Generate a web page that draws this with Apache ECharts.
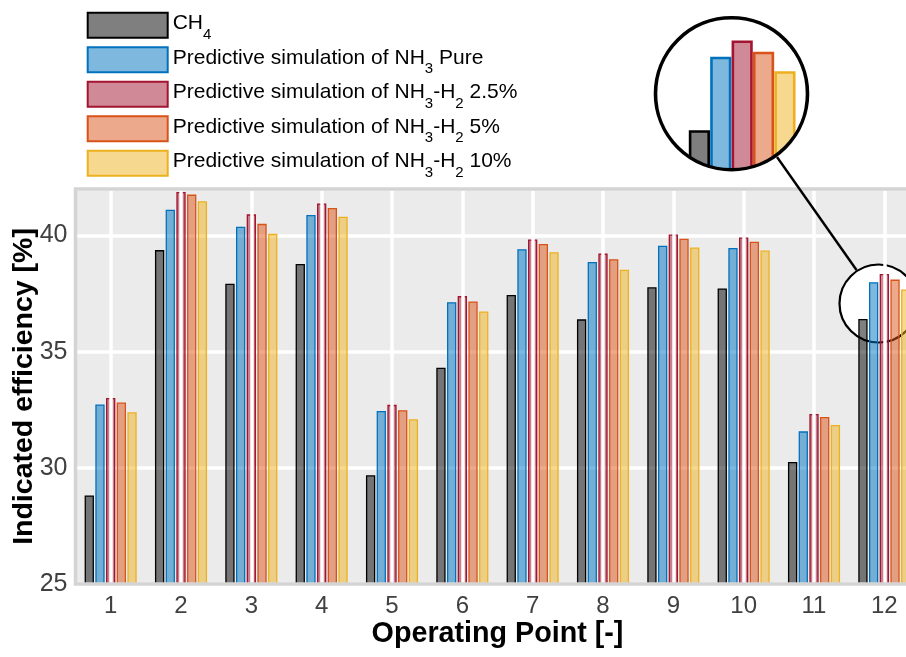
<!DOCTYPE html>
<html><head><meta charset="utf-8">
<script src="https://cdn.jsdelivr.net/npm/echarts@6/dist/echarts.min.js"></script>
<style>html,body{margin:0;padding:0;background:#fff}#c{width:906px;height:657px}</style>
</head><body><div id="c"></div>
<script>
// ---- data ----
const categories = ['1','2','3','4','5','6','7','8','9','10','11','12'];
const seriesNames = [
  'CH4',
  'Predictive simulation of NH3 Pure',
  'Predictive simulation of NH3-H2 2.5%',
  'Predictive simulation of NH3-H2 5%',
  'Predictive simulation of NH3-H2 10%'
];
const ch4      = [28.81, 39.37, 37.92, 38.77, 29.68, 34.31, 37.44, 36.39, 37.77, 37.72, 30.25, 36.41];
const nh3Pure  = [32.73, 41.11, 40.38, 40.88, 32.45, 37.13, 39.41, 38.86, 39.56, 39.46, 31.57, 37.99];
const nh3H2_25 = [33.01, 41.87, 40.91, 41.38, 32.71, 37.39, 39.83, 39.22, 40.04, 39.91, 32.32, 38.34];
const nh3H2_5  = [32.81, 41.76, 40.50, 41.18, 32.48, 37.16, 39.63, 38.98, 39.86, 39.73, 32.19, 38.10];
const nh3H2_10 = [32.39, 41.47, 40.07, 40.81, 32.09, 36.73, 39.28, 38.53, 39.48, 39.35, 31.84, 37.68];
const yTicks = [25, 30, 35, 40];
const zoomIndex = 11; // operating point shown in the magnifier

// ---- styling ----
const FONT = 'Liberation Sans, Arial, Helvetica, sans-serif';
const edges = ['#000000', '#0072bd', '#a2142f', '#d95319', '#edb120'];
const fills = ['rgba(0,0,0,0.5)', 'rgba(0,114,189,0.5)', 'rgba(162,20,47,0.5)', 'rgba(217,83,25,0.5)', 'rgba(237,177,32,0.5)'];
const allSeries = [ch4, nh3Pure, nh3H2_25, nh3H2_5, nh3H2_10];
const BARW = 9.3, GAP = 0.15, PITCH = BARW * (1 + GAP);
const MAG = 2;
const SRC = {cx: 879, cy: 300};
const INSET = {cx: 731.5, cy: 93.7, r: 76};
const SMALL = {cx: 878.5, cy: 303.5, r: 39};

const chart = echarts.init(document.getElementById('c'), null, {renderer: 'canvas'});

const barSeries = allSeries.map((arr, k) => ({
  name: seriesNames[k],
  type: 'bar',
  data: arr,
  barWidth: BARW,
  barGap: (GAP * 100) + '%',
  z: 3,
  itemStyle: {color: fills[k], borderColor: edges[k], borderWidth: 1.3},
  emphasis: {disabled: true},
  silent: true
}));

const insetData = allSeries.map((arr, k) => [k, arr[zoomIndex]]);

const option = {
  animation: false,
  backgroundColor: '#ffffff',
  grid: {
    left: 75.5, right: -13.5, top: 189, bottom: 73,
    outerBoundsMode: 'none', containLabel: false,
    show: true, backgroundColor: '#ebebeb', borderWidth: 0
  },
  legend: {
    data: seriesNames,
    orient: 'vertical',
    left: 86.7, top: 8.2,
    padding: 0,
    itemWidth: 80, itemHeight: 25, itemGap: 0.5,
    icon: 'rect',
    selectedMode: false,
    formatter: name => '{n|' + name.replace(/([CH])(\d)/g, '$1}{s|$2}{n|') + '}',
    textStyle: {
      fontFamily: FONT, fontSize: 21, color: '#000',
      rich: {
        n: {fontFamily: FONT, fontSize: 21, color: '#000', verticalAlign: 'top', padding: [5, 0, 0, 0], lineHeight: 34},
        s: {fontFamily: FONT, fontSize: 15, color: '#000', verticalAlign: 'bottom', lineHeight: 34}
      }
    }
  },
  xAxis: {
    type: 'category',
    data: categories,
    axisLine: {show: false},
    axisTick: {show: false},
    axisLabel: {fontFamily: FONT, fontSize: 24, color: '#404040', margin: 10},
    splitLine: {show: false},
    name: 'Operating Point [-]',
    nameLocation: 'middle',
    nameGap: 36,
    nameMoveOverlap: false,
    nameTextStyle: {fontFamily: FONT, fontSize: 28.7, fontWeight: 'bold', color: '#000'}
  },
  yAxis: {
    type: 'value',
    min: yTicks[0], max: 42, interval: 5,
    axisLine: {show: false},
    axisTick: {show: false},
    axisLabel: {fontFamily: FONT, fontSize: 25, color: '#404040', margin: 8, showMaxLabel: false,
      formatter: v => (yTicks.indexOf(v) >= 0 ? String(v) : '')},
    splitLine: {show: true, lineStyle: {color: '#ffffff', width: 3.5}},
    name: 'Indicated efficiency [%]',
    nameLocation: 'middle',
    nameGap: 37,
    nameMoveOverlap: false,
    nameTextStyle: {fontFamily: FONT, fontSize: 28.5, fontWeight: 'bold', color: '#000'}
  },
  graphic: [
    {type: 'circle', z: 2, silent: true, shape: {cx: SMALL.cx, cy: SMALL.cy, r: SMALL.r},
      style: {fill: '#ffffff', stroke: '#000', lineWidth: 2.2}},
    {type: 'rect', z: 10, silent: true, shape: {x: 75.5, y: 189, width: 845, height: 395},
      style: {fill: 'none', stroke: '#d4d4d4', lineWidth: 3.5}},
    {type: 'line', z: 10, silent: true, shape: {x1: 777, y1: 157, x2: 856.5, y2: 270},
      style: {stroke: '#000', lineWidth: 2.4}},
    {type: 'circle', z: 10, silent: true, shape: {cx: INSET.cx, cy: INSET.cy, r: INSET.r},
      style: {fill: 'none', stroke: '#000', lineWidth: 3.6}}
  ],
  series: [
    {
      type: 'line', z: 1, silent: true, data: categories.map(() => null), showSymbol: false,
      markLine: {
        silent: true, symbol: 'none', label: {show: false}, animation: false,
        lineStyle: {color: '#ffffff', width: 3.5, type: 'solid'},
        emphasis: {disabled: true},
        data: categories.map(c => ({xAxis: c}))
      }
    },
    ...barSeries,
    {
      type: 'custom', z: 6, silent: true, clip: false,
      data: insetData,
      encode: {x: 0, y: 1},
      renderItem: function (params, api) {
        const k = api.value(0);
        const v = api.value(1);
        const top = api.coord([zoomIndex, v]);
        const base = api.coord([zoomIndex, yTicks[0]]);
        const xMain = top[0] + (k - 2) * PITCH - BARW / 2;
        const X = INSET.cx + MAG * (xMain - SRC.cx);
        const Y = INSET.cy + MAG * (top[1] - SRC.cy);
        const Yb = INSET.cy + MAG * (base[1] - SRC.cy);
        return {
          type: 'rect',
          shape: {x: X, y: Y, width: MAG * BARW, height: Yb - Y},
          style: {fill: fills[k], stroke: edges[k], lineWidth: 2.6},
          clipPath: {type: 'circle', shape: {cx: INSET.cx, cy: INSET.cy, r: INSET.r}}
        };
      }
    }
  ]
};
chart.setOption(option);
</script>
</body></html>
